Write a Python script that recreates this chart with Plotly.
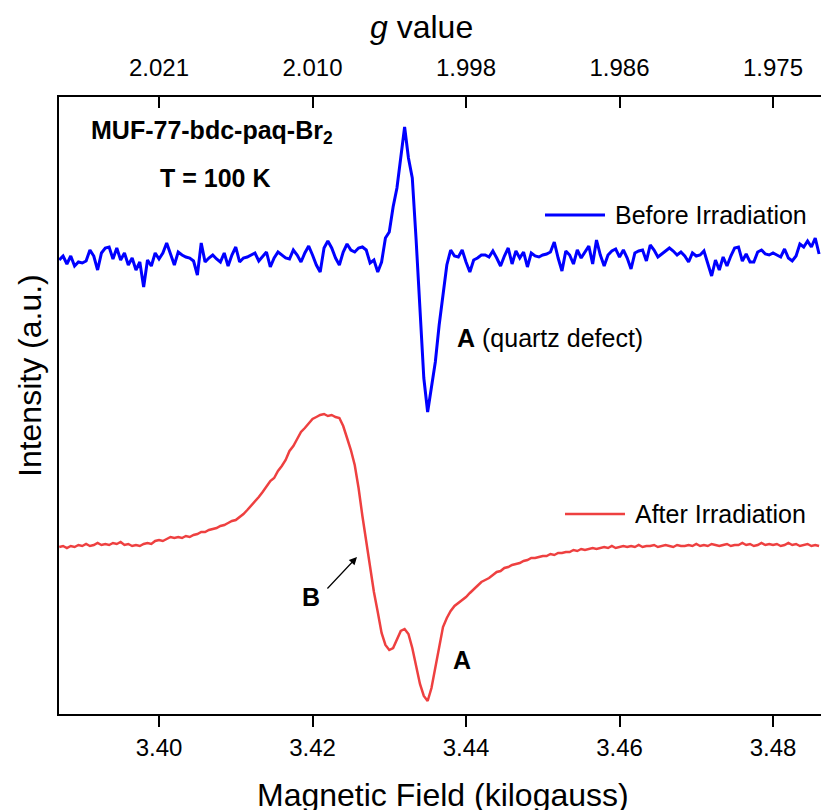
import numpy as np
import plotly.graph_objects as go

# ---------------- data ----------------
# field sampling grid (kilogauss)
FIELD_START = 3.3870
FIELD_STEP = 0.0005
N_POINTS = 199
field = np.round(FIELD_START + FIELD_STEP * np.arange(N_POINTS), 4)

# intensities (a.u.) relative to each spectrum's own baseline
before_irr = [
    -2, 2, -6, 2, -8, -4, -5, -3, 8, 2, -12, 5, 10, 11, -1, 10, -2, 5, -7, 0,
    -12, -4, -29, -2, -8, 5, -1, 5, 15, 4, -7, 6, 3, 1, 0, -3, -17, 15, -4, 0,
    3, -1, -4, 5, -8, 3, 11, -4, 0, 1, 3, 5, -3, 2, 6, -9, 0, 6, 3, 0,
    -1, 8, 3, -4, 5, 12, 3, -7, -14, 10, 17, 10, 0, -7, 6, 14, 8, 6, 10, 11,
    8, -5, -2, -14, -4, 20, 26, 51, 70, 100, 131, 100, 80, 18, -47, -120, -154, -130, -104, -67,
    -35, -7, 8, 2, 1, 8, -4, -14, -2, 0, 3, 3, 1, 7, 0, -8, 2, 10, -6, 7,
    0, 6, -9, 5, 2, 1, 3, 4, 6, 16, 0, -13, 7, 3, -6, 8, 0, 6, 12, -6,
    18, 3, -8, 3, 7, 9, 1, 8, 0, -11, 5, 7, 8, -3, 13, 8, 1, 4, 7, 10,
    7, 3, 6, 2, -4, 5, 2, 3, 7, -6, -18, -2, -12, 1, -8, 2, 10, 11, -3, 4,
    -4, -4, 6, 8, 4, 3, 5, 3, 1, 9, 0, -3, 2, 14, 11, 17, 11, 20, 4,
]
after_irr = [
    -1, 0, -2, 0, -1, 1, 0, 2, 0, 1, 3, 1, 2, 1, 3, 2, 4, 1, 2, 0,
    1, 0, 2, 3, 2, 5, 6, 5, 7, 9, 8, 9, 8, 10, 9, 11, 12, 14, 14, 16,
    17, 18, 20, 21, 23, 25, 26, 29, 32, 36, 40, 44, 49, 54, 59, 65, 68, 75, 80, 86,
    95, 100, 107, 114, 118, 123, 127, 129, 131, 132, 130, 131, 129, 128, 120, 108, 96, 81, 58, 30,
    4, -22, -46, -66, -87, -99, -104, -102, -94, -85, -83, -88, -102, -120, -138, -150, -155, -142, -121, -99,
    -81, -72, -65, -60, -57, -54, -51, -47, -43, -39, -36, -34, -32, -29, -26, -25, -22, -21, -19, -18,
    -17, -15, -14, -12, -12, -11, -10, -10, -8, -9, -7, -7, -6, -6, -4, -5, -3, -4, -3, -2,
    -3, -2, -1, -2, 0, -2, -1, 0, -1, 0, -1, 1, -1, 0, 0, 1, -1, 0, 1, 0,
    -1, 1, 0, 0, 1, 0, 2, 0, 1, 0, 2, 1, 0, 1, 2, 0, 1, 1, 3, 1,
    2, 0, 1, 3, 1, 2, 1, 2, 0, 1, 3, 1, 2, 0, 1, 2, 0, 1, 0,
]
# vertical stacking offsets (a.u.)
BEFORE_OFFSET = 456
AFTER_OFFSET = 168

# axis ticks
FIELD_TICKS = [3.40, 3.42, 3.44, 3.46, 3.48]
FIELD_TICK_LABELS = ["3.40", "3.42", "3.44", "3.46", "3.48"]
G_TICK_LABELS = ["2.021", "2.010", "1.998", "1.986", "1.975"]

X_RANGE = [3.38697, 3.48625]
Y_RANGE = [0, 617]

# ---------------- styling ----------------
FONT = "Liberation Sans, Arial, Helvetica, sans-serif"
BLUE = "#0000ff"
RED = "#ee4040"

W, H = 821, 810
ML, MR, MT, MB = 59, 0, 97, 96
PW, PH = W - ML - MR, H - MT - MB


def px(xp):
    return (xp - ML) / PW


def py(yp):
    return (H - MB - yp) / PH


fig = go.Figure()
fig.add_trace(go.Scatter(
    x=field, y=np.array(before_irr) + BEFORE_OFFSET, mode="lines",
    line=dict(color=BLUE, width=3), name="Before Irradiation", showlegend=False,
))
fig.add_trace(go.Scatter(
    x=field, y=np.array(after_irr) + AFTER_OFFSET, mode="lines",
    line=dict(color=RED, width=2.5), name="After Irradiation", showlegend=False,
))
# carrier trace for the top g-value axis
fig.add_trace(go.Scatter(
    x=FIELD_TICKS, y=[None] * len(FIELD_TICKS), xaxis="x2", mode="lines",
    showlegend=False, hoverinfo="skip",
))

axis_common = dict(
    showgrid=False, zeroline=False, showline=True, linecolor="black", linewidth=2,
    tickcolor="black", tickwidth=2, ticklen=11,
    tickfont=dict(family=FONT, size=24, color="black"),
)

fig.update_layout(
    width=W, height=H,
    margin=dict(l=ML, r=MR, t=MT, b=MB, pad=0),
    paper_bgcolor="white", plot_bgcolor="white",
    font=dict(family=FONT, color="black"),
    xaxis=dict(range=X_RANGE, tickmode="array", tickvals=FIELD_TICKS,
               ticktext=FIELD_TICK_LABELS, ticks="outside", **axis_common),
    xaxis2=dict(range=X_RANGE, overlaying="x", side="top", tickmode="array",
                tickvals=FIELD_TICKS, ticktext=G_TICK_LABELS, ticks="inside",
                ticklabelstandoff=9, **axis_common),
    yaxis=dict(range=Y_RANGE, showgrid=False, zeroline=False, showline=True,
               linecolor="black", linewidth=2, ticks="", showticklabels=False),
    showlegend=False,
)

ann_font = dict(family=FONT, size=25, color="black")
title_font = dict(family=FONT, size=32, color="black")
annotations = [
    dict(x=px(421), y=py(27), text="<i>g</i> value", font=title_font),
    dict(x=px(443), y=py(795), text="Magnetic Field (kilogauss)", font=title_font),
    dict(x=px(30), y=py(376), text="Intensity (a.u.)", textangle=-90, font=title_font),
    dict(x=px(89), y=py(132), xanchor="left", text="<b>MUF-77-bdc-paq-Br<sub>2</sub></b>", font=ann_font),
    dict(x=px(215), y=py(178), text="<b>T = 100 K</b>", font=ann_font),
    dict(x=px(455), y=py(338), xanchor="left", text="<b>A</b> (quartz defect)", font=ann_font),
    dict(x=px(311), y=py(597), text="<b>B</b>", font=ann_font),
    dict(x=px(462), y=py(660), text="<b>A</b>", font=ann_font),
    dict(x=px(613), y=py(215), xanchor="left", text="Before Irradiation", font=ann_font),
    dict(x=px(633), y=py(514), xanchor="left", text="After Irradiation", font=ann_font),
]
for a in annotations:
    a.setdefault("xanchor", "center")
    a.update(xref="paper", yref="paper", yanchor="middle", showarrow=False)
annotations.append(dict(
    xref="paper", yref="paper", x=px(357), y=py(557), text="", showarrow=True,
    ax=-31, ay=33, arrowhead=2, arrowsize=1.3, arrowwidth=1.2, arrowcolor="black",
))
fig.update_layout(annotations=annotations)

fig.add_shape(type="line", xref="paper", yref="paper", x0=px(545), x1=px(605),
              y0=py(215), y1=py(215), line=dict(color=BLUE, width=3))
fig.add_shape(type="line", xref="paper", yref="paper", x0=px(565), x1=px(625),
              y0=py(514), y1=py(514), line=dict(color=RED, width=2.5))

fig.write_html("out.html")
